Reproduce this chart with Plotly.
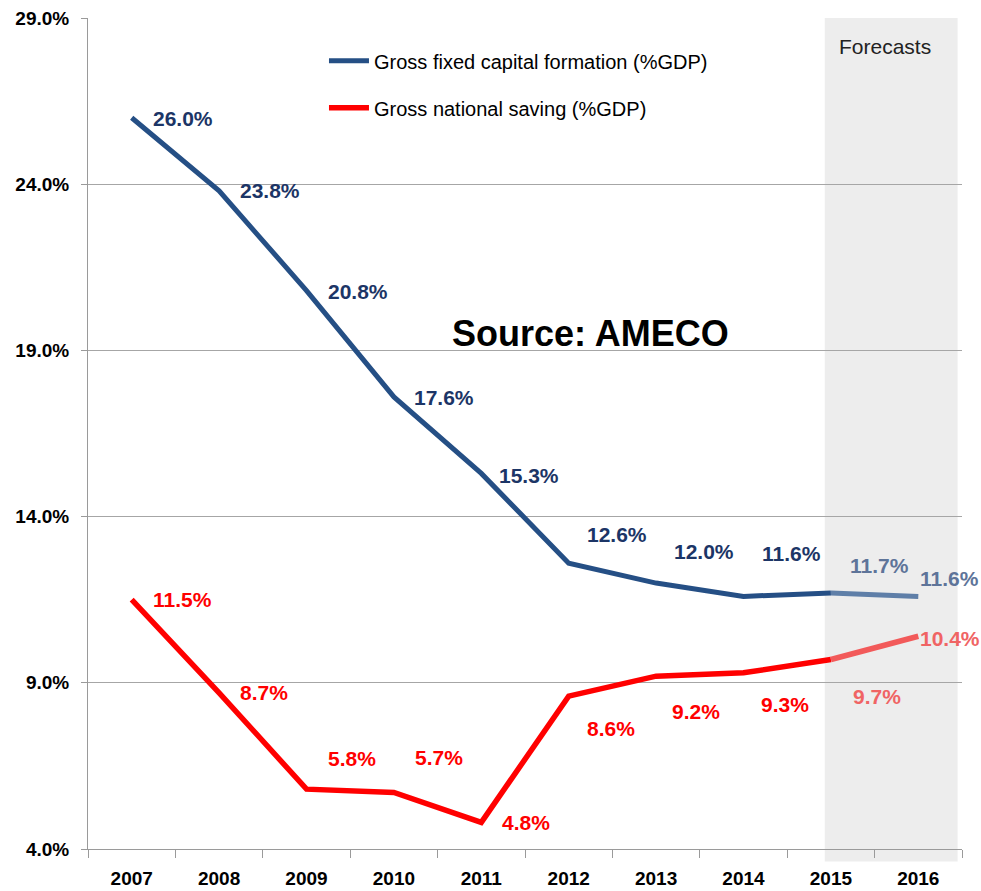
import plotly.graph_objects as go

years = ["2007", "2008", "2009", "2010", "2011", "2012", "2013", "2014", "2015", "2016"]
gfcf = [26.0, 23.8, 20.8, 17.6, 15.3, 12.6, 12.0, 11.6, 11.7, 11.6]
gns = [11.5, 8.7, 5.8, 5.7, 4.8, 8.6, 9.2, 9.3, 9.7, 10.4]
forecast_start = 8  # index of first forecast year (2015)

gfcf_name = "Gross fixed capital formation (%GDP)"
gns_name = "Gross national saving (%GDP)"

# label offsets in pixels (dx, dy) relative to each point
gfcf_off = [(19, -1), (19, 0), (19, -1), (18, -1), (16, -2), (16, 29), (16, 32), (16, 43), (17, 28), (0, 18)]
gns_off = [(19, 0), (19, 0), (19, 31), (19, 35), (19, 0), (16, -32), (14, -35), (15, -32), (20, -37), (0, -2)]

BLUE = "#254F85"
BLUE_L = "#5F7FA8"
BLUE_TXT = "#1C3566"
BLUE_TXT_L = "#5E7499"
RED = "#FF0000"
RED_L = "#F25A5A"
RED_TXT = "#FF0000"
RED_TXT_L = "#F06464"

FONT = "Liberation Sans, Arial, sans-serif"

fig = go.Figure()

n = forecast_start
fig.add_trace(go.Scatter(x=years[:n + 1], y=gfcf[:n + 1], mode="lines", name=gfcf_name,
                         legendgroup="a", line=dict(color=BLUE, width=5)))
fig.add_trace(go.Scatter(x=years[n:], y=gfcf[n:], mode="lines", showlegend=False,
                         legendgroup="a", line=dict(color=BLUE_L, width=5)))
fig.add_trace(go.Scatter(x=years[:n + 1], y=gns[:n + 1], mode="lines", name=gns_name,
                         legendgroup="b", line=dict(color=RED, width=5.5)))
fig.add_trace(go.Scatter(x=years[n:], y=gns[n:], mode="lines", showlegend=False,
                         legendgroup="b", line=dict(color=RED_L, width=5.5)))

annotations = []
for i, (v, (dx, dy)) in enumerate(zip(gfcf, gfcf_off)):
    annotations.append(dict(x=i, y=v, xref="x", yref="y", text=f"<b>{v:.1f}%</b>", showarrow=False,
                            xanchor="left", yanchor="middle", xshift=dx, yshift=dy,
                            font=dict(family=FONT, size=21, color=BLUE_TXT if i < n else BLUE_TXT_L)))
for i, (v, (dx, dy)) in enumerate(zip(gns, gns_off)):
    annotations.append(dict(x=i, y=v, xref="x", yref="y", text=f"<b>{v:.1f}%</b>", showarrow=False,
                            xanchor="left", yanchor="middle", xshift=dx, yshift=dy,
                            font=dict(family=FONT, size=21, color=RED_TXT if i < n else RED_TXT_L)))

annotations.append(dict(x=0.575, y=0.62, xref="paper", yref="paper", text="<b>Source: AMECO</b>",
                        showarrow=False, xanchor="center", yanchor="middle",
                        font=dict(family=FONT, size=36, color="#000000")))
annotations.append(dict(x=n + 0.62, y=0.966, xref="x", yref="paper", text="Forecasts",
                        showarrow=False, xanchor="center", yanchor="middle",
                        font=dict(family=FONT, size=21, color="#222222")))

ytick_vals = [4, 9, 14, 19, 24, 29]

fig.update_layout(
    width=981, height=891,
    margin=dict(l=88, r=19, t=18, b=42, autoexpand=False),
    paper_bgcolor="white", plot_bgcolor="white",
    font=dict(family=FONT, color="#000000"),
    annotations=annotations,
    shapes=[dict(type="rect", xref="x", yref="paper", x0=n - 0.07, x1=9.45, y0=-0.015, y1=1,
                 fillcolor="#EDEDED", line=dict(width=0), layer="below")],
    legend=dict(x=0.27, y=0.972, xanchor="left", yanchor="top", bgcolor="rgba(0,0,0,0)",
                font=dict(family=FONT, size=20, color="#000000"), tracegroupgap=18,
                itemwidth=40),
    showlegend=True,
)

fig.update_xaxes(type="category", showline=True, linecolor="#9A9A9A", linewidth=1,
                 ticks="outside", tickson="boundaries", ticklen=8, tickcolor="#9A9A9A",
                 showgrid=False, tickfont=dict(family=FONT, size=19, color="#000000"),
                 ticklabelstandoff=12, tickprefix="<b>", ticksuffix="</b>", range=[-0.5, 9.5],
                 automargin=False)
fig.update_yaxes(range=[4, 29], tickvals=ytick_vals, showline=True,
                 linecolor="#9A9A9A", linewidth=1, ticks="outside", ticklen=6, tickcolor="#9A9A9A",
                 showgrid=True, gridcolor="#A6A6A6", gridwidth=1, zeroline=False,
                 ticktext=[f"<b>{v:.1f}%</b>" for v in ytick_vals],
                 tickmode="array", tickfont=dict(family=FONT, size=19, color="#000000"),
                 ticklabelstandoff=8, automargin=False)

fig.write_html("out.html", config={"displayModeBar": False},
               post_script="document.body.style.margin='0';document.body.style.overflow='hidden';")
